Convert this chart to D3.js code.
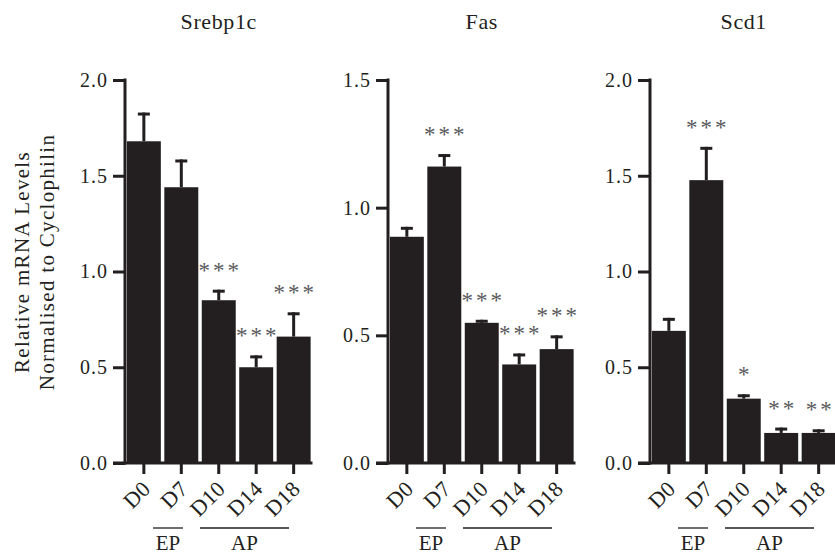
<!DOCTYPE html>
<html>
<head>
<meta charset="utf-8">
<script src="https://cdn.jsdelivr.net/npm/d3@7"></script>
<style>
  body { margin: 0; background: #fff; }
  svg text { font-family: "Liberation Serif", "Times New Roman", serif; fill: #231f20; }
</style>
</head>
<body>
<svg id="chart" width="835" height="555"></svg>
<script>
(function () {
    'use strict';

    // data
    const days = ["D0", "D7", "D10", "D14", "D18"];
    const genes = ["Srebp1c", "Fas", "Scd1"];
    const yMaxes = [2.0, 1.5, 2.0];
    const yTicks = [[0, 0.5, 1.0, 1.5, 2.0], [0, 0.5, 1.0, 1.5], [0, 0.5, 1.0, 1.5, 2.0]];

    const srebp1cMean = [1.68, 1.44, 0.85, 0.50, 0.66];
    const srebp1cSem  = [0.15, 0.145, 0.055, 0.062, 0.127];
    const srebp1cSig  = ["", "", "***", "***", "***"];

    const fasMean = [0.886, 1.161, 0.549, 0.386, 0.446];
    const fasSem  = [0.039, 0.049, 0.012, 0.043, 0.054];
    const fasSig  = ["", "***", "***", "***", "***"];

    const scd1Mean = [0.69, 1.477, 0.336, 0.157, 0.157];
    const scd1Sem  = [0.068, 0.174, 0.023, 0.028, 0.019];
    const scd1Sig  = ["", "***", "*", "**", "**"];

    const phases = [
        { label: "EP", from: "D0", to: "D7" },
        { label: "AP", from: "D10", to: "D18" }
    ];

    const means = [srebp1cMean, fasMean, scd1Mean];
    const sems = [srebp1cSem, fasSem, scd1Sem];
    const sigs = [srebp1cSig, fasSig, scd1Sig];

    const ink = "#231f20";
    const svg = d3.select("#chart");

    const panelLeft = [125, 388, 650];
    const plotW = 187.5;
    const top = 80, bottom = 463;

    // offsets of the phase bars relative to the panel axis (layout only)
    const phaseLayout = { EP: [28, 58], AP: [75, 164] };

    genes.forEach((gene, gi) => {
        const g = svg.append("g").attr("transform", `translate(${panelLeft[gi]},0)`);

        const x = d3.scaleBand()
            .domain(days)
            .range([0, plotW])
            .paddingInner(0.093)
            .paddingOuter(0.05);

        const y = d3.scaleLinear()
            .domain([0, yMaxes[gi]])
            .range([bottom, top]);

        const rows = days.map((d, i) => ({ day: d, mean: means[gi][i], sem: sems[gi][i], sig: sigs[gi][i] }));

        // title
        g.append("text")
            .attr("x", plotW / 2)
            .attr("y", 29)
            .attr("text-anchor", "middle")
            .style("font-size", "22px")
            .style("letter-spacing", "0.6px")
            .text(gene);

        // bars
        g.selectAll("rect.bar")
            .data(rows)
            .enter()
            .append("rect")
            .attr("class", "bar")
            .attr("x", d => x(d.day))
            .attr("width", x.bandwidth())
            .attr("y", d => y(d.mean))
            .attr("height", d => y(0) - y(d.mean))
            .style("fill", ink);

        // error bars (upper only)
        const cx = d => x(d.day) + x.bandwidth() / 2;
        g.selectAll("line.err")
            .data(rows)
            .enter()
            .append("line")
            .attr("class", "err")
            .attr("x1", cx).attr("x2", cx)
            .attr("y1", d => y(d.mean))
            .attr("y2", d => y(d.mean + d.sem))
            .style("stroke", ink)
            .style("stroke-width", 3);

        g.selectAll("rect.cap")
            .data(rows)
            .enter()
            .append("rect")
            .attr("class", "cap")
            .attr("x", d => cx(d) - 6)
            .attr("width", 12)
            .attr("y", d => y(d.mean + d.sem))
            .attr("height", 3)
            .style("fill", ink);

        // significance stars
        g.selectAll("text.sig")
            .data(rows.filter(d => d.sig))
            .enter()
            .append("text")
            .attr("class", "sig")
            .attr("x", d => cx(d) + 1.5)
            .attr("y", d => y(d.mean + d.sem) - 12)
            .attr("text-anchor", "middle")
            .style("font-size", "23px")
            .style("letter-spacing", "3px")
            .style("fill", "#58595b")
            .text(d => d.sig);

        // y axis
        const yAxis = d3.axisLeft(y)
            .tickValues(yTicks[gi])
            .tickSize(12)
            .tickPadding(5)
            .tickFormat(d3.format(".1f"));

        const ya = g.append("g").attr("class", "axis").call(yAxis);
        ya.select(".domain").remove();
        ya.selectAll(".tick line").style("stroke", ink).style("stroke-width", 3);
        ya.selectAll(".tick text")
            .style("font-size", "20px")
            .style("letter-spacing", "1px")
            .style("font-family", "Liberation Serif, serif")
            .style("fill", ink);
        g.append("line")
            .attr("x1", 0).attr("x2", 0)
            .attr("y1", y(yMaxes[gi]) - 1.5).attr("y2", y(0) + 1.5)
            .style("stroke", ink).style("stroke-width", 3);

        // x axis
        g.append("line")
            .attr("x1", -12).attr("x2", plotW)
            .attr("y1", y(0)).attr("y2", y(0))
            .style("stroke", ink).style("stroke-width", 3);

        g.selectAll("line.xtick")
            .data(days)
            .enter()
            .append("line")
            .attr("class", "xtick")
            .attr("x1", d => x(d) + x.bandwidth() / 2)
            .attr("x2", d => x(d) + x.bandwidth() / 2)
            .attr("y1", y(0))
            .attr("y2", y(0) + 11)
            .style("stroke", ink).style("stroke-width", 3);

        g.selectAll("text.xlab")
            .data(days)
            .enter()
            .append("text")
            .attr("class", "xlab")
            .attr("text-anchor", "end")
            .attr("transform", d => `translate(${x(d) + x.bandwidth() / 2 + 8},${y(0) + 27}) rotate(-45)`)
            .style("font-size", "22px")
            .style("letter-spacing", "0.5px")
            .text(d => d);

        // phase brackets
        phases.forEach(p => {
            const [x0, x1] = phaseLayout[p.label];
            g.append("line")
                .attr("x1", x0).attr("x2", x1)
                .attr("y1", 528).attr("y2", 528)
                .style("stroke", ink).style("stroke-width", 1.3);
            g.append("text")
                .attr("x", (x0 + x1) / 2)
                .attr("y", 550)
                .attr("text-anchor", "middle")
                .style("font-size", "21px")
                .text(p.label);
        });
    });

    // shared y label
    const yl = svg.append("text")
        .attr("transform", `translate(29,262) rotate(-90)`)
        .attr("text-anchor", "middle")
        .style("font-size", "21px")
        .style("letter-spacing", "1.3px");
    yl.append("tspan").attr("x", 0).attr("dy", 0).text("Relative mRNA Levels");
    yl.append("tspan").attr("x", 0).attr("dy", 25).text("Normalised to Cyclophilin");
}());
</script>
</body>
</html>
